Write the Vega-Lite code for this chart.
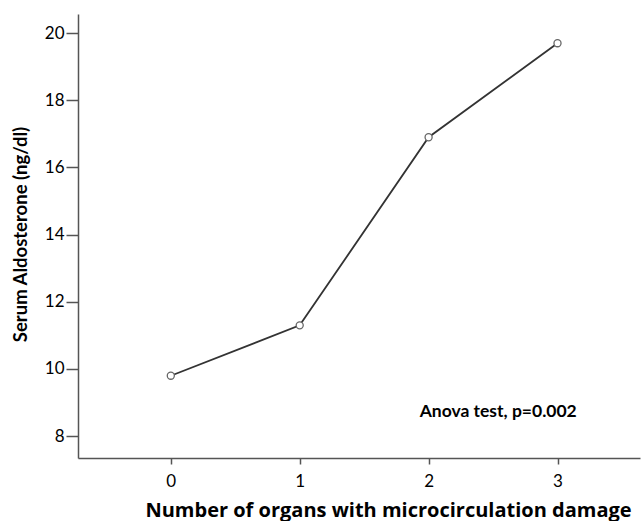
{
  "$schema": "https://vega.github.io/schema/vega-lite/v6.json",
  "autosize": "none",
  "width": 562,
  "height": 444,
  "padding": {"left": 78, "top": 14, "right": 3, "bottom": 63},
  "background": "white",
  "config": {"view": {"stroke": null}, "font": "Lato"},
  "datasets": {
    "main": [
      {"organs": 0, "aldosterone": 9.8},
      {"organs": 1, "aldosterone": 11.3},
      {"organs": 2, "aldosterone": 16.9},
      {"organs": 3, "aldosterone": 19.7}
    ],
    "note": [
      {"organs": 2.54, "aldosterone": 8.73, "label": "Anova test, p=0.002"}
    ]
  },
  "layer": [
    {
      "data": {"name": "main"},
      "mark": {"type": "line", "color": "#333333", "strokeWidth": 1.8},
      "encoding": {
        "x": {
          "field": "organs", "type": "quantitative",
          "scale": {"domain": [-0.72, 3.64], "nice": false, "zero": false},
          "axis": {
            "values": [0, 1, 2, 3], "grid": false, "format": "d",
            "title": "Number of organs with microcirculation damage",
            "titleFont": "Open Sans", "titleFontSize": 20, "titleFontWeight": "bold", "titleColor": "black",
            "titleX": 310, "titleY": 58, "titleBaseline": "alphabetic", "titleAlign": "center", "titleAnchor": null,
            "labelFontSize": 17, "labelColor": "black", "labelPadding": 9,
            "tickSize": 6, "tickColor": "#555555", "tickWidth": 1.5,
            "domainColor": "#555555", "domainWidth": 1.5
          }
        },
        "y": {
          "field": "aldosterone", "type": "quantitative",
          "scale": {"domain": [7.35, 20.57], "nice": false, "zero": false},
          "axis": {
            "values": [8, 10, 12, 14, 16, 18, 20], "grid": false,
            "title": "Serum Aldosterone (ng/dl)",
            "titleFontSize": 18.5, "titleFontWeight": "bold", "titleColor": "black",
            "titleX": -58, "titleY": 220, "titleAngle": -90, "titleAlign": "center", "titleBaseline": "middle", "titleAnchor": null,
            "labelFontSize": 17, "labelColor": "black", "labelPadding": 2,
            "tickSize": 12, "tickColor": "#555555", "tickWidth": 1.5,
            "domainColor": "#555555", "domainWidth": 1.5
          }
        }
      }
    },
    {
      "data": {"name": "main"},
      "mark": {"type": "point", "shape": "circle", "filled": false, "fill": "white", "stroke": "#666666", "strokeWidth": 1.3, "size": 50, "opacity": 1},
      "encoding": {
        "x": {"field": "organs", "type": "quantitative"},
        "y": {"field": "aldosterone", "type": "quantitative"}
      }
    },
    {
      "data": {"name": "note"},
      "mark": {"type": "text", "fontSize": 17.5, "fontWeight": "bold", "color": "black", "align": "center", "baseline": "middle"},
      "encoding": {
        "x": {"field": "organs", "type": "quantitative"},
        "y": {"field": "aldosterone", "type": "quantitative"},
        "text": {"field": "label"}
      }
    }
  ]
}
